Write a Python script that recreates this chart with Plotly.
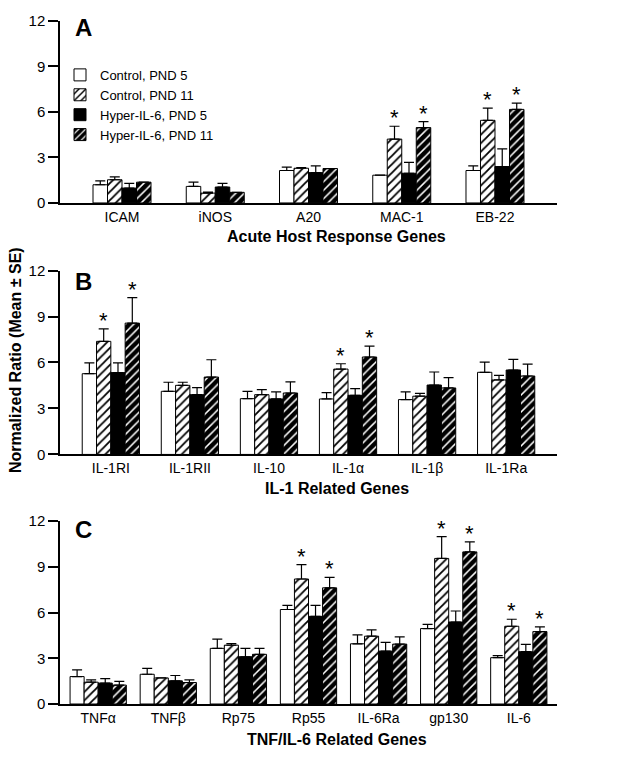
import plotly.graph_objects as go

series_names = ["Control, PND 5", "Control, PND 11", "Hyper-IL-6, PND 5", "Hyper-IL-6, PND 11"]

# Panel A: Acute host response genes
a_genes = ["ICAM", "iNOS", "A20", "MAC-1", "EB-22"]
a_ctrl5 = [1.20, 1.09, 2.14, 1.83, 2.14]
a_ctrl5_se = [0.26, 0.28, 0.22, 0.00, 0.30]
a_ctrl11 = [1.53, 0.65, 2.29, 4.21, 5.45]
a_ctrl11_se = [0.19, 0.07, 0.04, 0.85, 0.81]
a_hyp5 = [0.98, 1.05, 2.00, 1.96, 2.40]
a_hyp5_se = [0.31, 0.24, 0.44, 0.72, 1.16]
a_hyp11 = [1.37, 0.70, 2.27, 4.97, 6.17]
a_hyp11_se = [0.00, 0.00, 0.00, 0.40, 0.42]
a_sig = ["MAC-1", "EB-22"]

# Panel B: IL-1 related genes
b_genes = ["IL-1RI", "IL-1RII", "IL-10", "IL-1α", "IL-1β", "IL-1Ra"]
b_ctrl5 = [5.27, 4.12, 3.64, 3.62, 3.58, 5.36]
b_ctrl5_se = [0.70, 0.59, 0.48, 0.41, 0.50, 0.67]
b_ctrl11 = [7.38, 4.51, 3.90, 5.57, 3.80, 4.86]
b_ctrl11_se = [0.82, 0.20, 0.33, 0.35, 0.19, 0.30]
b_hyp5 = [5.34, 3.90, 3.62, 3.86, 4.53, 5.51]
b_hyp5_se = [0.63, 0.46, 0.46, 0.44, 0.85, 0.69]
b_hyp11 = [8.57, 5.05, 4.01, 6.36, 4.34, 5.12]
b_hyp11_se = [1.67, 1.13, 0.72, 0.71, 0.67, 0.78]
b_sig = ["IL-1RI", "IL-1α"]

# Panel C: TNF/IL-6 related genes
c_genes = ["TNFα", "TNFβ", "Rp75", "Rp55", "IL-6Ra", "gp130", "IL-6"]
c_ctrl5 = [1.80, 1.95, 3.65, 6.20, 3.95, 4.95, 3.04]
c_ctrl5_se = [0.44, 0.39, 0.60, 0.27, 0.59, 0.28, 0.13]
c_ctrl11 = [1.43, 1.71, 3.86, 8.20, 4.45, 9.55, 5.10]
c_ctrl11_se = [0.15, 0.00, 0.11, 0.94, 0.41, 1.43, 0.46]
c_hyp5 = [1.37, 1.52, 3.10, 5.75, 3.47, 5.38, 3.43]
c_hyp5_se = [0.30, 0.35, 0.55, 0.72, 0.57, 0.72, 0.48]
c_hyp11 = [1.24, 1.41, 3.26, 7.62, 3.93, 9.98, 4.75]
c_hyp11_se = [0.24, 0.17, 0.39, 0.69, 0.48, 0.65, 0.31]
c_sig = ["Rp55", "gp130", "IL-6"]

y_ticks = [0, 3, 6, 9, 12]

panels = [
    dict(genes=a_genes, vals=[a_ctrl5, a_ctrl11, a_hyp5, a_hyp11],
         ses=[a_ctrl5_se, a_ctrl11_se, a_hyp5_se, a_hyp11_se], sig=a_sig,
         title="Acute Host Response Genes", letter="A", w=0.1555, pad=0.665,
         dom=[0.7336, 1.0], letter_dy=0.0102, title_y=0.6841),
    dict(genes=b_genes, vals=[b_ctrl5, b_ctrl11, b_hyp5, b_hyp11],
         ses=[b_ctrl5_se, b_ctrl11_se, b_hyp5_se, b_hyp11_se], sig=b_sig,
         title="IL-1 Related Genes", letter="B", w=0.181, pad=0.643,
         dom=[0.3654, 0.6346], letter_dy=0.016, title_y=0.3159),
    dict(genes=c_genes, vals=[c_ctrl5, c_ctrl11, c_hyp5, c_hyp11],
         ses=[c_ctrl5_se, c_ctrl11_se, c_hyp5_se, c_hyp11_se], sig=c_sig,
         title="TNF/IL-6 Related Genes", letter="C", w=0.2007, pad=0.545,
         dom=[0.0, 0.2678], letter_dy=0.0116, title_y=-0.0524),
]

styles = [
    dict(color="white", pattern=None),
    dict(color="white", pattern=dict(shape="/", fgcolor="black", bgcolor="white", size=6, solidity=0.3)),
    dict(color="black", pattern=None),
    dict(color="black", pattern=dict(shape="/", fgcolor="white", bgcolor="black", size=6, solidity=0.25)),
]

FONT = "Liberation Sans, Arial, sans-serif"
fig = go.Figure()
annotations = []

for p_i, p in enumerate(panels):
    sfx = "" if p_i == 0 else str(p_i + 1)
    w = p["w"]
    for s_i in range(4):
        st = styles[s_i]
        marker = dict(color=st["color"], line=dict(color="black", width=1))
        if st["pattern"] is not None:
            marker["pattern"] = dict(fillmode="replace", **st["pattern"])
        fig.add_trace(go.Bar(
            x=p["genes"], y=p["vals"][s_i], name=series_names[s_i],
            width=w, offset=(-2 + s_i) * w,
            marker=marker,
            error_y=dict(type="data", array=p["ses"][s_i], arrayminus=[0] * len(p["genes"]),
                         symmetric=False, color="black", thickness=1.2, width=5),
            showlegend=(p_i == 0), legendgroup=series_names[s_i],
            xaxis="x" + sfx, yaxis="y" + sfx,
        ))
        # significance asterisks on PND 11 groups
        if s_i in (1, 3):
            for g in p["sig"]:
                k = p["genes"].index(g)
                annotations.append(dict(
                    x=k + (-2 + s_i) * w + w / 2,
                    y=p["vals"][s_i][k] + p["ses"][s_i][k],
                    xref="x" + sfx, yref="y" + sfx, text="*", showarrow=False,
                    yanchor="bottom", yshift=-6,
                    font=dict(family=FONT, size=22, color="black")))
    n = len(p["genes"])
    fig.layout["xaxis" + sfx] = dict(
        domain=[0, 1], anchor="y" + sfx, range=[-p["pad"], n - 1 + p["pad"]],
        showline=True, linecolor="black", linewidth=1.5, ticks="",
        tickfont=dict(family=FONT, size=14, color="black"),
        showgrid=False, zeroline=False, fixedrange=True)
    fig.layout["yaxis" + sfx] = dict(
        domain=p["dom"], anchor="x" + sfx, range=[0, 12], tickvals=y_ticks,
        showline=True, linecolor="black", linewidth=1.5, ticks="outside",
        ticklen=10, tickwidth=1.5, tickcolor="black",
        tickfont=dict(family=FONT, size=15, color="black"),
        showgrid=False, zeroline=False)
    annotations.append(dict(
        x=0.026, y=p["dom"][1] - p["letter_dy"], xref="paper", yref="paper",
        xanchor="left", yanchor="middle", text="<b>" + p["letter"] + "</b>",
        showarrow=False, font=dict(family=FONT, size=24, color="black")))
    annotations.append(dict(
        x=0.557, y=p["title_y"], xref="paper", yref="paper",
        xanchor="center", yanchor="middle", text="<b>" + p["title"] + "</b>",
        showarrow=False, font=dict(family=FONT, size=16, color="black")))

annotations.append(dict(
    x=-0.0905, y=0.5036, xref="paper", yref="paper", xanchor="center", yanchor="middle",
    text="<b>Normalized Ratio (Mean ± SE)</b>", textangle=-90, showarrow=False,
    font=dict(family=FONT, size=16, color="black")))

fig.update_layout(
    width=624, height=757,
    margin=dict(l=60, r=67, t=17, b=53),
    barmode="overlay",
    plot_bgcolor="white", paper_bgcolor="white",
    annotations=annotations,
    legend=dict(x=0.0, y=0.943, xanchor="left", yanchor="top",
                bgcolor="rgba(0,0,0,0)", font=dict(family=FONT, size=13, color="black"),
                tracegroupgap=0, itemwidth=30),
    showlegend=True,
)

fig.write_html("out.html", config={"displayModeBar": False},
               post_script="document.body.style.margin='0';")
